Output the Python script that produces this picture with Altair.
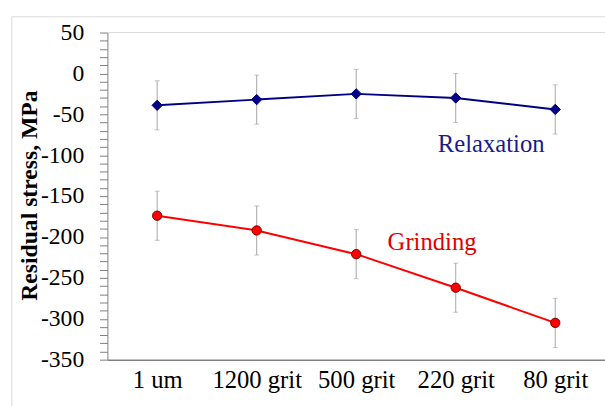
import altair as alt
import pandas as pd

categories = ["1 um", "1200 grit", "500 grit", "220 grit", "80 grit"]
relaxation = [-39, -32, -25, -30, -44]
relaxation_err = [30, 30, 30, 30, 30]
grinding = [-174, -192, -221, -262, -305]
grinding_err = [30, 30, 30, 30, 30]
y_tick_values = list(range(-350, 51, 10))
label_relaxation = ("Relaxation", "220 grit", -87)
label_grinding = ("Grinding", "500 grit", -206)

FONT = "Liberation Serif"


def make_df(vals, errs):
    return pd.DataFrame({
        "cat": categories,
        "val": vals,
        "lo": [v - e for v, e in zip(vals, errs)],
        "hi": [v + e for v, e in zip(vals, errs)],
    })


rel_df = make_df(relaxation, relaxation_err)
gri_df = make_df(grinding, grinding_err)

X = alt.X(
    "cat:N",
    sort=categories,
    scale=alt.Scale(type="point", padding=0.5),
    axis=alt.Axis(
        title=None, ticks=False, tickSize=0, labelPadding=8, labelAngle=0,
        labelFont=FONT, labelFontSize=25, labelColor="#000000",
        domainColor="#808080", domainWidth=1.5, grid=False,
        labelBaseline="top",
    ),
)
yscale = alt.Scale(domain=[-350, 50], nice=False, zero=False)
yaxis = alt.Axis(
    title="Residual stress, MPa",
    values=y_tick_values,
    labelExpr="datum.value % 50 == 0 ? '' + datum.value : ''",
    labelOverlap=False, labelFont=FONT, labelFontSize=24,
    labelColor="#000000", labelPadding=16, tickSize=8,
    tickColor="#7f7f7f", domainColor="#7f7f7f", grid=False,
    titleFont=FONT, titleFontSize=24, titleFontWeight="bold",
    titleColor="#000000", titleX=-72, titleY=165,
    titleBaseline="alphabetic", titleAlign="center",
)


def yenc(field):
    return alt.Y(f"{field}:Q", scale=yscale, axis=yaxis)


def series_layers(df, color, shape, fill, stroke, size):
    base = alt.Chart(df)
    err = base.mark_rule(color="#a6a6a6", strokeWidth=1).encode(
        x=X, y=yenc("lo"), y2="hi:Q"
    )
    cap_lo = base.mark_tick(color="#a6a6a6", size=5, thickness=1, orient="horizontal").encode(
        x=X, y=yenc("lo")
    )
    cap_hi = base.mark_tick(color="#a6a6a6", size=5, thickness=1, orient="horizontal").encode(
        x=X, y=yenc("hi")
    )
    line = base.mark_line(color=color, strokeWidth=2).encode(x=X, y=yenc("val"))
    pts = base.mark_point(
        shape=shape, filled=True, fill=fill, stroke=stroke, strokeWidth=1,
        size=size, opacity=1,
    ).encode(x=X, y=yenc("val"))
    return [err, cap_lo, cap_hi, line, pts]


def text_layer(lbl, color, dx):
    txt, cat, val = lbl
    df = pd.DataFrame({"cat": [cat], "val": [val], "t": [txt]})
    return alt.Chart(df).mark_text(
        font=FONT, fontSize=25, color=color, dx=dx, align="center", baseline="middle"
    ).encode(x=X, y=yenc("val"), text="t:N")


blank = alt.Data(values=[{"a": 1}])
frame_left = alt.Chart(blank).mark_rule(color="#d9d9d9", strokeWidth=1).encode(
    x=alt.value(-97), y=alt.value(-16), y2=alt.value(400)
)
frame_top = alt.Chart(blank).mark_rule(color="#d9d9d9", strokeWidth=1).encode(
    x=alt.value(-97), x2=alt.value(520), y=alt.value(-16)
)
plot_top = alt.Chart(blank).mark_rule(color="#d9d9d9", strokeWidth=1).encode(
    x=alt.value(0), x2=alt.value(520), y=alt.value(0)
)

layers = [frame_left, frame_top, plot_top]
layers += series_layers(rel_df, "#000080", "diamond", "#00008b", "#00006b", 110)
layers += series_layers(gri_df, "#ff0000", "circle", "#ff0000", "#7a0000", 90)
layers += [text_layer(label_relaxation, "#1a1a8a", 36), text_layer(label_grinding, "#e00000", 77)]

chart = alt.layer(*layers).properties(
    width=505, height=332,
    autosize=alt.AutoSizeParams(type="none"),
    padding={"left": 109, "top": 30, "right": 0, "bottom": 44},
    background="#ffffff",
).configure_view(stroke=None)

chart.save("out.html", embed_options={"renderer": "svg", "actions": False})
